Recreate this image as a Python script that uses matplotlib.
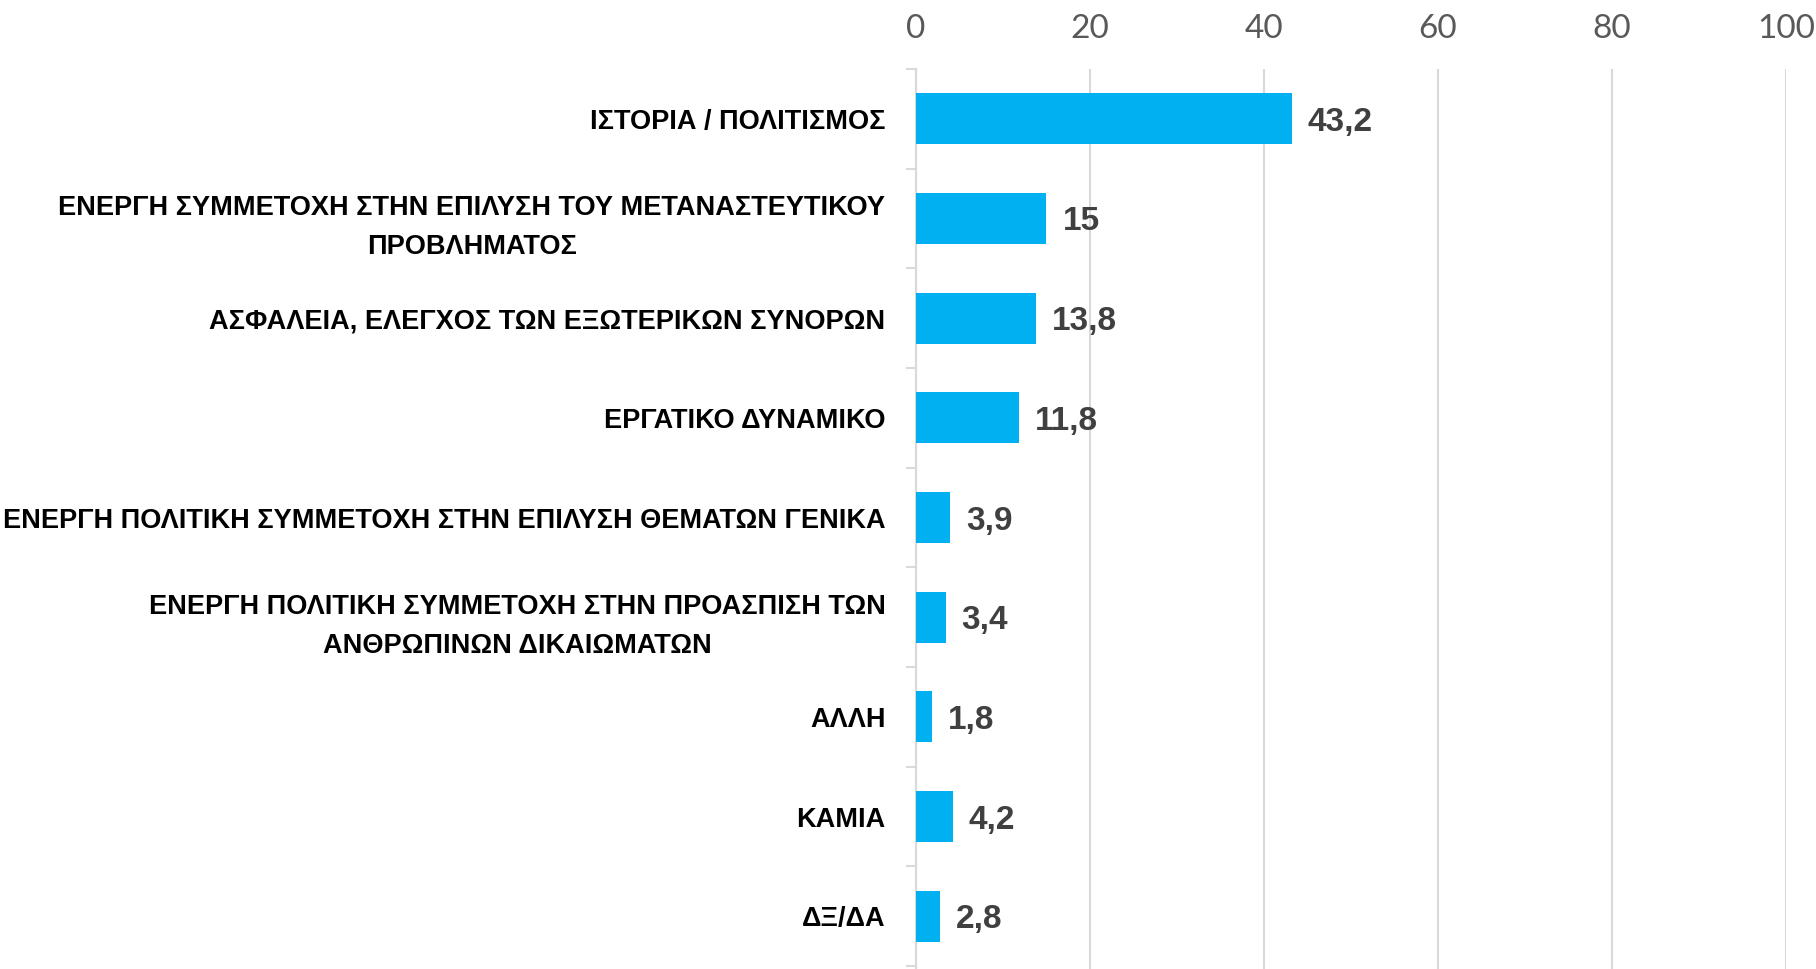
import matplotlib
matplotlib.use("Agg")
import matplotlib.pyplot as plt
from matplotlib.transforms import ScaledTranslation

categories = [
    "ΙΣΤΟΡΙΑ / ΠΟΛΙΤΙΣΜΟΣ",
    "ΕΝΕΡΓΗ ΣΥΜΜΕΤΟΧΗ ΣΤΗΝ ΕΠΙΛΥΣΗ ΤΟΥ ΜΕΤΑΝΑΣΤΕΥΤΙΚΟΥ\nΠΡΟΒΛΗΜΑΤΟΣ",
    "ΑΣΦΑΛΕΙΑ, ΕΛΕΓΧΟΣ ΤΩΝ ΕΞΩΤΕΡΙΚΩΝ ΣΥΝΟΡΩΝ",
    "ΕΡΓΑΤΙΚΟ ΔΥΝΑΜΙΚΟ",
    "ΕΝΕΡΓΗ ΠΟΛΙΤΙΚΗ ΣΥΜΜΕΤΟΧΗ ΣΤΗΝ ΕΠΙΛΥΣΗ ΘΕΜΑΤΩΝ ΓΕΝΙΚΑ",
    "ΕΝΕΡΓΗ ΠΟΛΙΤΙΚΗ ΣΥΜΜΕΤΟΧΗ ΣΤΗΝ ΠΡΟΑΣΠΙΣΗ ΤΩΝ\nΑΝΘΡΩΠΙΝΩΝ ΔΙΚΑΙΩΜΑΤΩΝ",
    "ΑΛΛΗ",
    "ΚΑΜΙΑ",
    "ΔΞ/ΔΑ",
]
values = [43.2, 15, 13.8, 11.8, 3.9, 3.4, 1.8, 4.2, 2.8]
xticks = [0, 20, 40, 60, 80, 100]

fig = plt.figure(figsize=(18.16, 9.69), dpi=100)
ax = fig.add_axes([0.5044, 0.0, 0.4791, 0.9288])

y = list(range(len(categories)))
ax.barh(y, values, height=0.51, color="#00B0F0", zorder=3)
ax.set_ylim(len(categories) - 0.47, -0.5)
ax.set_xlim(0, 100)

for yi, v in zip(y, values):
    lbl = f"{v:g}".replace(".", ",")
    ax.annotate(lbl, (v, yi), xytext=(16, 0), textcoords="offset pixels",
                ha="left", va="center_baseline", fontsize=24, fontweight="bold",
                color="#404040", family=["Liberation Sans", "DejaVu Sans"])

ax.xaxis.tick_top()
ax.set_xticks(xticks)
ax.set_xticklabels([str(t) for t in xticks], fontsize=24, color="#595959",
                   fontweight="normal", family=["Lato", "DejaVu Sans"])
ax.tick_params(axis="x", length=0, pad=18)
ax.grid(axis="x", color="#d9d9d9", linewidth=1.5, zorder=0)

ax.set_yticks(y)
ax.set_yticklabels(categories, fontsize=19.5, fontweight="bold", color="black",
                   family=["Liberation Sans", "DejaVu Sans"], linespacing=1.65,
                   multialignment="center")
# two-line labels sit a touch higher in the original
for t in ax.get_yticklabels():
    if "\n" in t.get_text():
        t.set_transform(t.get_transform() + ScaledTranslation(0, 0.06, fig.dpi_scale_trans))
ax.tick_params(axis="y", which="major", length=0, pad=22)
ax.set_yticks([i - 0.5 for i in range(len(categories) + 1)], minor=True)
ax.tick_params(axis="y", which="minor", length=7, width=1.5, color="#d9d9d9")

for s in ["top", "right", "bottom"]:
    ax.spines[s].set_visible(False)
ax.spines["left"].set_color("#d9d9d9")
ax.spines["left"].set_linewidth(1.5)

fig.savefig("out.png", dpi=100)
